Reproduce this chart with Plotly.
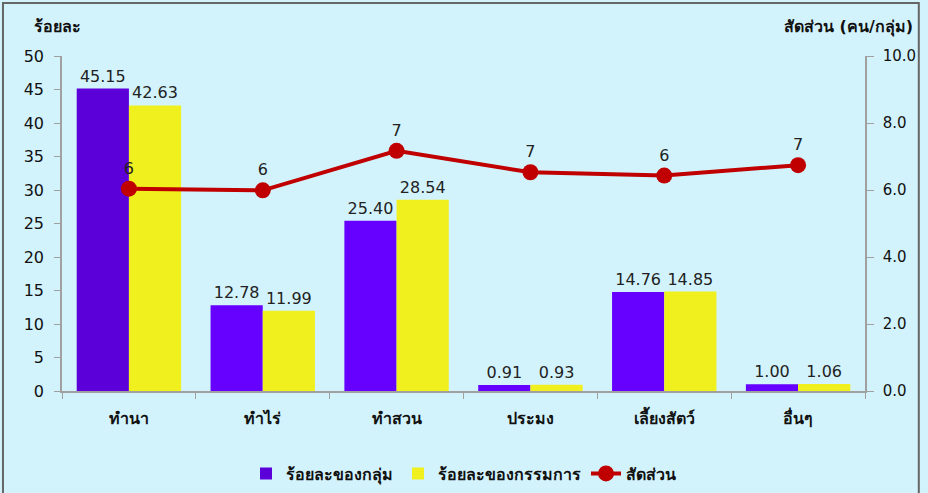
import plotly.graph_objects as go

categories = ["ทำนา", "ทำไร่", "ทำสวน", "ประมง", "เลี้ยงสัตว์", "อื่นๆ"]
group_pct = [45.15, 12.78, 25.40, 0.91, 14.76, 1.00]
committee_pct = [42.63, 11.99, 28.54, 0.93, 14.85, 1.06]
ratio = [6.04, 5.99, 7.17, 6.53, 6.43, 6.74]

FONT = "Tahoma, DejaVu Sans, sans-serif"
BG = "#d3f3fc"
PURPLE = "#6600ff"
YELLOW = "#f0f01e"
RED = "#c00000"
AXIS = "#a0a0a0"

fig = go.Figure()

fig.add_trace(go.Bar(
    x=categories,
    y=group_pct,
    name="<b>ร้อยละของกลุ่ม</b>",
    marker=dict(color=["#5b00d9"] + [PURPLE] * 5, line=dict(width=0)),
    text=[f"{v:.2f}" for v in group_pct],
    textposition="outside",
    textfont=dict(size=16, color="#222222", family=FONT),
    cliponaxis=False,
))

fig.add_trace(go.Bar(
    x=categories,
    y=committee_pct,
    name="<b>ร้อยละของกรรมการ</b>",
    marker=dict(color=YELLOW, line=dict(width=0)),
    text=[f"{v:.2f}" for v in committee_pct],
    textposition="outside",
    textfont=dict(size=16, color="#222222", family=FONT),
    cliponaxis=False,
))

fig.add_trace(go.Scatter(
    x=categories,
    y=ratio,
    name="<b>สัดส่วน</b>",
    yaxis="y2",
    mode="lines+markers+text",
    line=dict(color=RED, width=4),
    marker=dict(color=RED, size=16),
    text=[f"{v:.0f}" for v in ratio],
    textposition="top center",
    textfont=dict(size=16, color="#222222", family=FONT),
    cliponaxis=False,
))

fig.update_layout(
    width=928,
    height=493,
    margin=dict(l=62, r=63, t=56, b=102),
    paper_bgcolor=BG,
    plot_bgcolor=BG,
    font=dict(family=FONT, size=15, color="#222222"),
    barmode="group",
    bargap=0.22,
    bargroupgap=0,
    showlegend=True,
    legend=dict(
        orientation="h",
        x=0.5, xanchor="center",
        yref="container",
        y=0.005, yanchor="bottom",
        font=dict(size=16, family=FONT, color="#111111"),
        bgcolor="rgba(0,0,0,0)",
        traceorder="normal",
    ),
    xaxis=dict(
        automargin=False,
        showline=True,
        linecolor=AXIS,
        linewidth=1.5,
        ticks="outside",
        tickson="boundaries",
        ticklen=6,
        tickcolor=AXIS,
        ticklabelstandoff=12,
        tickfont=dict(size=16, family=FONT, color="#111111"),
        tickvals=categories,
        ticktext=[f"<b>{c}</b>" for c in categories],
        showgrid=False,
    ),
    yaxis=dict(
        automargin=False,
        range=[0, 50],
        dtick=5,
        showline=True,
        linecolor=AXIS,
        linewidth=1.5,
        ticks="outside",
        ticklen=6,
        tickcolor=AXIS,
        ticklabelstandoff=7,
        showgrid=False,
        zeroline=False,
        tickfont=dict(size=16, family=FONT, color="#111111"),
    ),
    yaxis2=dict(
        automargin=False,
        range=[0, 10],
        dtick=2,
        tickformat=".1f",
        overlaying="y",
        side="right",
        showline=True,
        linecolor=AXIS,
        linewidth=1.5,
        ticks="outside",
        ticklen=7,
        tickcolor=AXIS,
        ticklabelstandoff=6,
        showgrid=False,
        zeroline=False,
        tickfont=dict(size=15, family=FONT, color="#111111"),
    ),
    annotations=[
        dict(text="<b>ร้อยละ</b>", xref="paper", yref="paper",
             x=-0.005, y=1.087, xanchor="center", yanchor="middle",
             showarrow=False, font=dict(size=16, family=FONT, color="#111111")),
        dict(text="<b>สัดส่วน (คน/กลุ่ม)</b>", xref="paper", yref="paper",
             x=1.062, y=1.087, xanchor="right", yanchor="middle",
             showarrow=False, font=dict(size=16, family=FONT, color="#111111")),
    ],
    shapes=[
        dict(type="rect", xref="paper", yref="paper",
             x0=-0.0735, x1=1.067, y0=-0.4, y1=1.158,
             line=dict(color="#666666", width=2), fillcolor="rgba(0,0,0,0)",
             layer="above"),
    ],
)

fig.write_html("out.html", config={"displayModeBar": False},
               post_script="document.body.style.margin='0';")
